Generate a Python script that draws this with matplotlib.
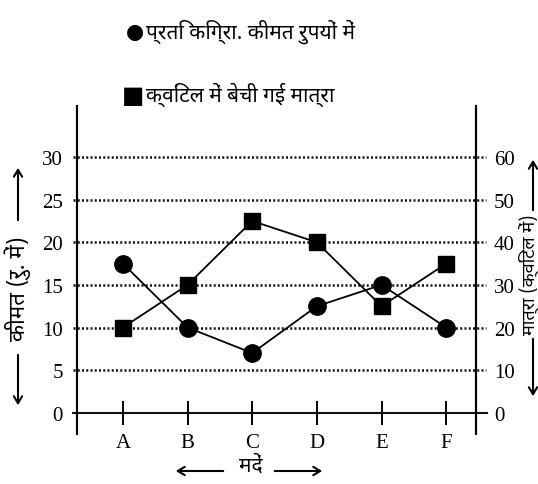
import matplotlib
matplotlib.use("Agg")
import matplotlib.pyplot as plt
from matplotlib.patches import FancyArrowPatch

# data
items = ["A", "B", "C", "D", "E", "F"]
price = [17.5, 10, 7, 12.5, 15, 10]        # rupees per kg (left axis)
quantity = [20, 30, 45, 40, 25, 35]        # quintals sold (right axis)
left_ticks = [0, 5, 10, 15, 20, 25, 30]
right_ticks = [0, 10, 20, 30, 40, 50, 60]

HINDI = ["Noto Sans Devanagari", "Lohit Devanagari", "DejaVu Sans"]
plt.rcParams["font.family"] = ["Liberation Serif", "DejaVu Serif"]

fig = plt.figure(figsize=(5.38, 4.85), dpi=100)
ax = fig.add_axes([0.1431, 0.1031, 0.7416, 0.6763])
ax2 = ax.twinx()

x = list(range(len(items)))
ax.set_xlim(-0.71, 5.46)
ax.set_ylim(-2.5, 36)
ax2.set_ylim(-5, 72)

# dotted grid lines, running a little past both spines
for v in left_ticks[1:]:
    ax.axhline(v, xmin=-0.01, xmax=1.025, color="#111111", lw=1.8,
               ls=(0, (0.8, 0.9)), clip_on=False, zorder=1)
ax.axhline(0, xmin=-0.01, xmax=1.028, color="#111111", lw=1.5,
           clip_on=False, zorder=2)

ax.plot(x, price, color="black", lw=1.3, marker="o", ms=12.5, zorder=4)
ax2.plot(x, quantity, color="black", lw=1.3, marker="s", ms=12, zorder=4)

for a in (ax, ax2):
    a.spines["top"].set_visible(False)
    a.spines["bottom"].set_visible(False)
    a.spines["left"].set_linewidth(1.5)
    a.spines["right"].set_linewidth(1.5)
    a.set_facecolor("none")

# x ticks cross the zero line
ax.spines["bottom"].set_position(("data", 0))
ax.set_xticks(x)
ax.set_xticklabels(items, fontsize=15)
ax.tick_params(axis="x", direction="inout", length=17, width=1.4, pad=6)

ax.set_yticks(left_ticks)
ax.set_yticklabels([str(t) for t in left_ticks], fontsize=15)
ax.tick_params(axis="y", length=0, pad=10)
ax2.set_yticks(right_ticks)
ax2.set_yticklabels([str(t) for t in right_ticks], fontsize=15)
ax2.tick_params(axis="y", length=0, pad=13)


def px(xp, yp):
    return (xp / 538, 1 - yp / 485)


def arrow(p0, p1):
    a = FancyArrowPatch(px(*p0), px(*p1), transform=fig.transFigure,
                        arrowstyle="->,head_length=5,head_width=3",
                        lw=1.5, color="black", mutation_scale=1)
    fig.add_artist(a)


# legend lines at the top
fig.text(*px(126, 32), "●", fontsize=15, family="DejaVu Sans", va="center")
fig.text(*px(146, 32), "प्रति किग्रा. कीमत रुपयों में", fontsize=15,
         family=HINDI, va="center", weight="bold")
fig.text(*px(122, 96), "■", fontsize=17, family="DejaVu Sans", va="center")
fig.text(*px(146, 95), "क्विंटल में बेची गई मात्रा", fontsize=15,
         family=HINDI, va="center", weight="bold")

# left axis label
fig.text(*px(18, 289), "कीमत (रु. में)", fontsize=16, family=HINDI,
         rotation=90, ha="center", va="center")
arrow((18, 224), (18, 166))
arrow((18, 353), (18, 409))

# right axis label
fig.text(*px(529, 275), "मात्रा (क्विंटल में)", fontsize=13, family=HINDI,
         rotation=90, ha="center", va="center")
arrow((533, 214), (533, 158))
arrow((533, 337), (533, 400))

# x axis label
fig.text(*px(251, 466), "मदें", fontsize=15, family=HINDI,
         ha="center", va="center", weight="bold")
arrow((226, 472), (173, 472))
arrow((272, 472), (325, 472))

fig.savefig("out.png")
